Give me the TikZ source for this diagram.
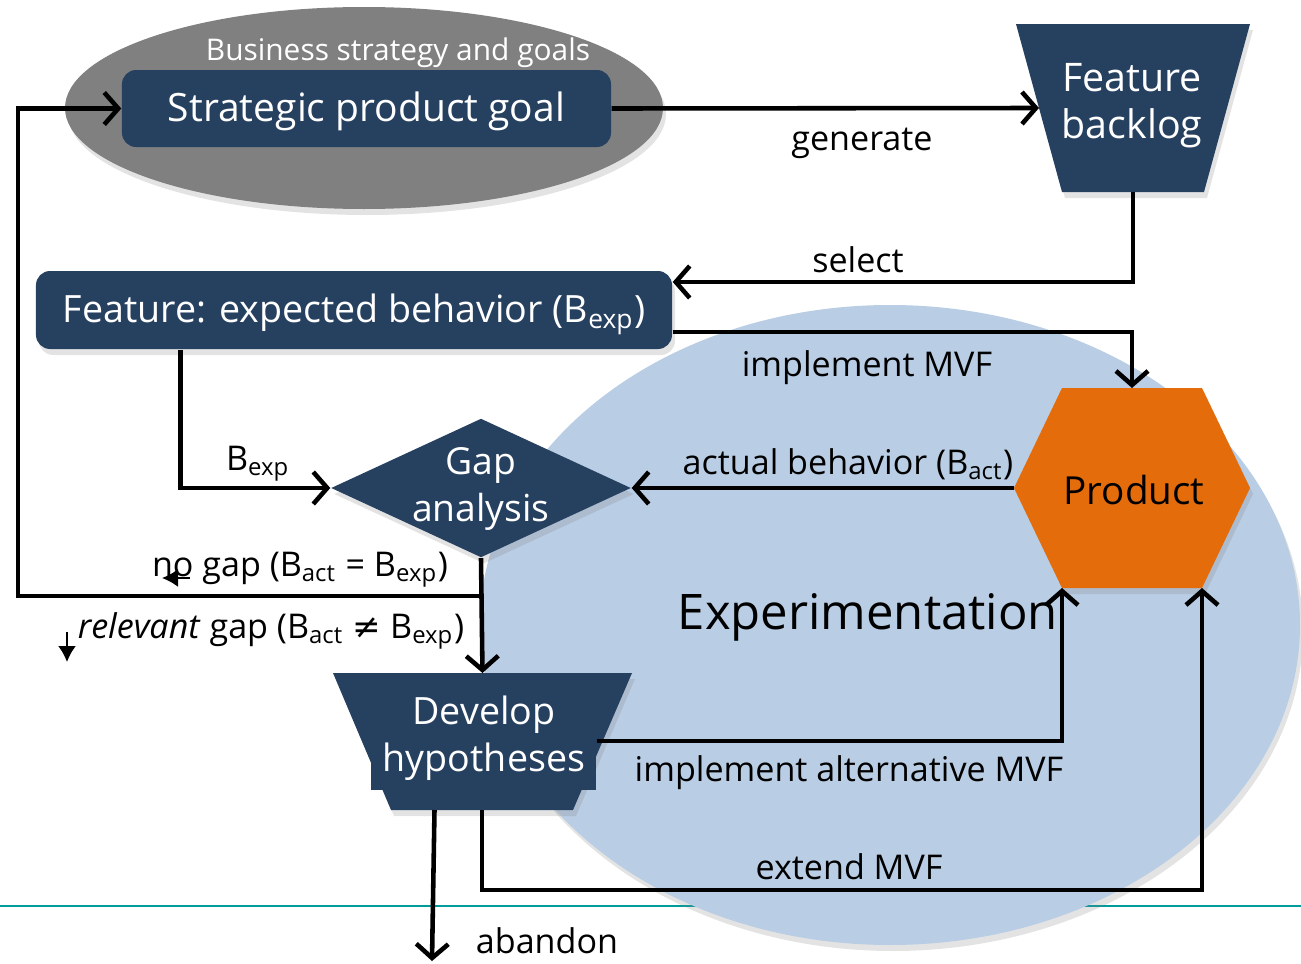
\documentclass[tikz,border=0pt]{standalone}
\usepackage{fontspec}
\setmainfont{Open Sans}
\newfontfamily\symfont{DejaVu Sans}
\usetikzlibrary{arrows.meta,positioning,shapes.geometric,shadows,calc}
\definecolor{navy}{RGB}{38,64,96}
\definecolor{pumpkin}{RGB}{228,108,10}
\definecolor{slate}{RGB}{128,128,128}
\definecolor{sky}{RGB}{185,205,228}
\definecolor{lagoon}{RGB}{0,155,155}
\newcommand\fsz[1]{\fontsize{#1}{13.4}\selectfont}
\tikzset{
  >={Straight Barb[length=1.4mm,width=3.2mm]},
  soft/.style={drop shadow={opacity=0.22,shadow xshift=0.3mm,shadow yshift=-0.6mm}},
  box/.style={fill=navy,text=white,rounded corners=4pt,minimum height=7.7mm,
    text height=1.33ex,text depth=0pt,align=center,font=\fsz{11},soft},
  funnel/.style={fill=navy,soft},
  inside/.style={text=white,align=center,font=\fsz{11}},
  flow/.style={->,line width=1.3pt},
  tag/.style={font=\fsz{9.7},text=black,inner sep=1pt},
  tick/.style={-{Latex[length=1.6mm,width=1.8mm]},line width=0.6pt},
}
\begin{document}
\begin{tikzpicture}
  \useasboundingbox (0,0) rectangle (13.01,9.63);
  % background shapes
  \draw[lagoon,line width=0.6pt] (0,0.57) -- (13.01,0.57);
  \node[ellipse,fill=sky,minimum width=8.2cm,minimum height=6.4cm,soft] (lab) at (8.90,3.38) {};
  \node[font=\fsz{13.95}] (labtext) at (8.68,3.46) {Experimentation};
  \node[ellipse,fill=slate,minimum width=5.98cm,minimum height=2.02cm,soft] (biz) at (3.64,8.55) {};
  \node[font=\fsz{8.5},text=white] (biztext) at (3.98,9.10) {Business strategy and goals};
  % main nodes
  \node[box,minimum width=4.89cm,font=\fsz{11.1}] (goal) at (3.665,8.545) {Strategic product goal};
  \fill[funnel] (10.16,9.39) -- (12.50,9.39) -- (12.04,7.71) -- (10.62,7.71) -- cycle;
  \coordinate (backlogin) at (10.39,8.55);
  \coordinate (backlogout) at (11.33,7.71);
  \node[inside,font=\fsz{11.2}] (backlog) at (11.32,8.57) {Feature\\backlog};
  \node[box,minimum width=6.36cm,minimum height=7.8mm,font=\fsz{10.7}] (feat) at (3.54,6.53) {Feature: expected behavior (B\textsubscript{exp})};
  \node[diamond,fill=navy,minimum width=3cm,minimum height=1.39cm,inner sep=0pt,soft] (gap) at (4.81,4.75) {};
  \node[inside,font=\fsz{10.6}] (gaptext) at (4.81,4.74) {Gap\\analysis};
  \fill[pumpkin,soft] (10.14,4.75) -- (10.62,5.75) -- (12.02,5.75)
    -- (12.50,4.75) -- (12.02,3.75) -- (10.62,3.75) -- cycle;
  \coordinate (prodtop) at (11.32,5.75);
  \coordinate (prodleft) at (10.14,4.75);
  \coordinate (prodbl) at (10.62,3.75);
  \coordinate (prodbr) at (12.02,3.75);
  \node[font=\fsz{11}] (product) at (11.34,4.73) {Product};
  \fill[funnel] (3.33,2.90) -- (6.32,2.90) -- (5.73,1.53) -- (3.91,1.53) -- cycle;
  \node[fill=navy,minimum width=2.25cm,minimum height=7.5mm,inner sep=0pt] (devpad) at (4.835,2.105) {};
  \coordinate (devtop) at (4.825,2.90);
  \coordinate (devbot) at (4.82,1.53);
  \node[inside,font=\fsz{10.7}] (dev) at (4.84,2.25) {Develop\\hypotheses};
  % helper points
  \coordinate (loop) at (0.18,3.67);
  \coordinate (quit) at (4.32,0.02);
  % connectors
  \draw[flow] (goal.east) -- (backlogin);
  \node[tag] (lgen) at (8.62,8.20) {generate};
  \draw[flow] (backlogout) |- ([yshift=2.8mm]feat.east);
  \node[tag] (lsel) at (8.58,7.03) {select};
  \draw[flow] ([yshift=-2.2mm]feat.east) -| (prodtop);
  \node[tag] (lmvf) at (8.67,5.95) {implement MVF};
  \draw[flow] ([xshift=14.5mm]feat.south west) |- (gap.west);
  \node[tag] (lexp) at (2.58,4.99) {B\textsubscript{exp}};
  \draw[flow] (prodleft) -- (gap.east);
  \node[tag] (lact) at (8.48,4.99) {actual behavior (B\textsubscript{act})};
  \draw[flow] (gap.south) -- (devtop);
  \draw[flow] (gap.south |- loop) -- (loop) |- (goal.west);
  \node[tag] (lnogap) at (3.00,3.93) {no gap (B\textsubscript{act} = B\textsubscript{exp})};
  \draw[tick] (1.90,3.85) coordinate (nogapa) -- (1.62,3.85) coordinate (nogapb);
  \node[tag] (lgap) at (2.71,3.32) {\textit{relevant} gap (B\textsubscript{act} {\symfont ≠} B\textsubscript{exp})};
  \draw[tick] (0.67,3.31) coordinate (gapa) -- (0.67,3.01) coordinate (gapb);
  \draw[flow] (devpad.east |- 0,2.22) -| (prodbl);
  \node[tag] (lalt) at (8.49,1.90) {implement alternative MVF};
  \draw[flow] (devbot) -- ++(0,-0.80) -| (prodbr);
  \node[tag] (lext) at (8.49,0.96) {extend MVF};
  \draw[flow] ([xshift=-4.75mm]devbot) -- (quit);
  \node[tag] (lquit) at (5.47,0.22) {abandon};
\end{tikzpicture}
\end{document}
